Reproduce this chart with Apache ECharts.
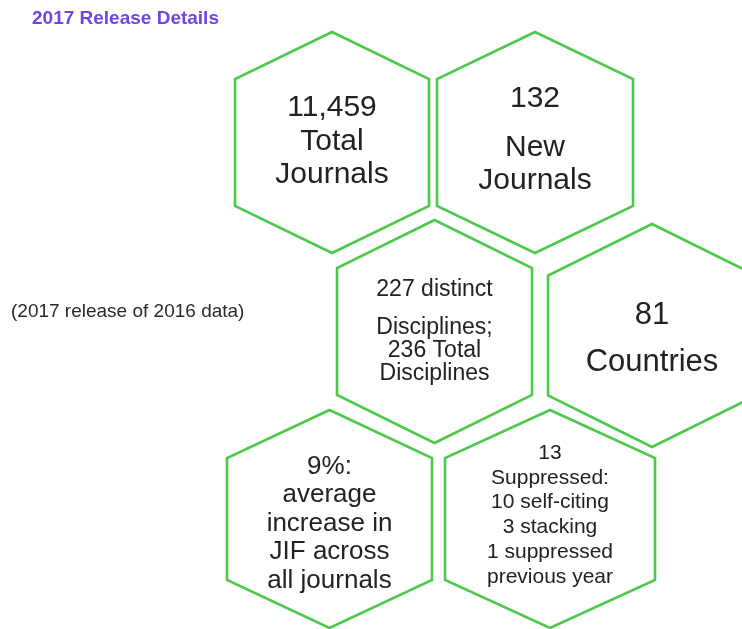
<!DOCTYPE html>
<html>
<head>
<meta charset="utf-8">
<script src="https://cdn.jsdelivr.net/npm/echarts@6/dist/echarts.min.js"></script>
<style>
html,body{margin:0;padding:0;background:#fff;}
#chart{width:742px;height:629px;}
</style>
</head>
<body>
<div id="chart"></div>
<script>
// ---- content ----
const titleText = '2017 Release Details';
const subtitleText = '(2017 release of 2016 data)';
const categories = ['Total Journals', 'New Journals', 'Disciplines', 'Countries', 'JIF Increase', 'Suppressed'];
const hexLines = [
  ['11,459', 'Total', 'Journals'],
  ['132', 'New', 'Journals'],
  ['227 distinct', 'Disciplines;', '236 Total', 'Disciplines'],
  ['81', 'Countries'],
  ['9%:', 'average', 'increase in', 'JIF across', 'all journals'],
  ['13', 'Suppressed:', '10 self-citing', '3 stacking', '1 suppressed', 'previous year']
];

// ---- layout (axis units) ----
const cellX = [332, 535, 434.5, 652, 329.5, 550];
const cellY = [142.5, 142.5, 331.5, 335.5, 519, 519];
const cellHalfW = [97, 98, 97.5, 104, 102.5, 105];
const cellHalfH = [110.5, 110.5, 111.5, 111.5, 109, 109];
const cellHalfSide = [63.5, 63.5, 63.5, 60, 61, 61];

// ---- text styles ----
const textStyles = [
  { size: 30, first: 33.5, rest: 33.5, dy: -1 },
  { size: 30, first: 65, rest: 33, dy: -10.5 },
  { size: 23, first: 53, rest: 23, dy: -7 },
  { size: 31, first: 47, rest: 47, dy: 3 },
  { size: 26, first: 28.5, rest: 28.5, dy: 4.5 },
  { size: 21, first: 24.8, rest: 24.8, dy: -4 }
];
const FONT = '"Liberation Sans", Arial, Helvetica, sans-serif';
const GREEN = '#4cc84a';
const TEXT = '#222222';

const data = categories.map((c, i) => ({ name: c, value: [cellX[i], cellY[i], i] }));

const chart = echarts.init(document.getElementById('chart'));
chart.setOption({
  backgroundColor: '#ffffff',
  animation: false,
  title: [
    { text: titleText, left: 32, top: 8.5, padding: 0,
      textStyle: { fontFamily: FONT, fontSize: 19, fontWeight: 'bold', color: '#6c47e6', lineHeight: 20 } },
    { text: subtitleText, left: 11, top: 302, padding: 0,
      textStyle: { fontFamily: FONT, fontSize: 19, fontWeight: 'normal', color: '#2a2a2a', lineHeight: 20 } }
  ],
  grid: { left: 0, right: 0, top: 0, bottom: 0 },
  xAxis: { type: 'value', min: 0, max: 742, show: false },
  yAxis: { type: 'value', min: 0, max: 629, inverse: true, show: false },
  series: [{
    type: 'custom',
    clip: false,
    data: data,
    renderItem: function (params, api) {
      const i = api.value(2);
      const c = api.coord([api.value(0), api.value(1)]);
      const hw = api.size([cellHalfW[i], 0])[0];
      const hh = api.size([0, cellHalfH[i]])[1];
      const hs = api.size([0, cellHalfSide[i]])[1];
      const px = c[0], py = c[1];
      const pts = [
        [px, py - hh], [px + hw, py - hs], [px + hw, py + hs],
        [px, py + hh], [px - hw, py + hs], [px - hw, py - hs]
      ];
      const st = textStyles[i];
      const lines = hexLines[i];
      const txt = lines.map((l, k) => '{' + (k === 0 ? 'a' : 'b') + '|' + l + '}').join('\n');
      return {
        type: 'group',
        children: [
          { type: 'polygon', shape: { points: pts },
            style: { fill: '#ffffff', stroke: GREEN, lineWidth: 2.6, lineJoin: 'miter' } },
          { type: 'text', x: px, y: py + st.dy,
            style: {
              text: txt, align: 'center', verticalAlign: 'middle',
              fill: TEXT, fontFamily: FONT, fontSize: st.size,
              rich: {
                a: { fontFamily: FONT, fontSize: st.size, lineHeight: st.first, fill: TEXT, color: TEXT },
                b: { fontFamily: FONT, fontSize: st.size, lineHeight: st.rest, fill: TEXT, color: TEXT }
              }
            } }
        ]
      };
    }
  }]
});
</script>
</body>
</html>
